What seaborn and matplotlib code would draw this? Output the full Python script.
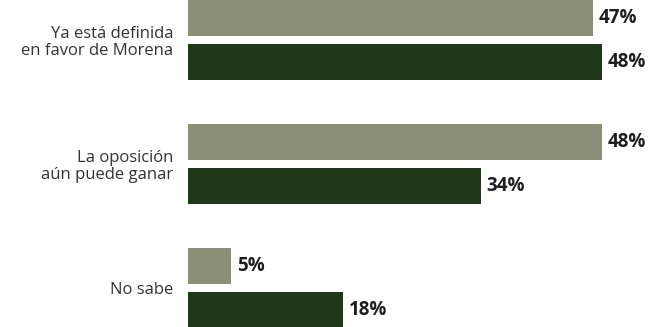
import matplotlib
matplotlib.use("Agg")
import matplotlib.pyplot as plt
import seaborn as sns
import pandas as pd

categories = ["Ya está definida\nen favor de Morena", "La oposición\naún puede ganar", "No sabe"]
series = ["Anterior", "Actual"]
values_anterior = [47, 48, 5]
values_actual = [48, 34, 18]
colors = ["#8a8f76", "#1f3817"]

rows = []
for c, a, b in zip(categories, values_anterior, values_actual):
    rows.append({"categoria": c, "serie": series[0], "valor": a})
    rows.append({"categoria": c, "serie": series[1], "valor": b})
df = pd.DataFrame(rows)

sns.set_theme(style="white")
plt.rcParams["font.family"] = ["Open Sans", "DejaVu Sans"]

fig = plt.figure(figsize=(6.51, 3.27), dpi=100)
ax = fig.add_axes([188 / 651, 0, 463 / 651, 1])
sns.barplot(data=df, y="categoria", x="valor", hue="serie", orient="h",
            palette=colors, width=0.71, gap=0.18, legend=False, ax=ax,
            saturation=1, linewidth=0)

for cont in ax.containers:
    ax.bar_label(cont, fmt="%d%%", padding=4, fontsize=13.5, fontweight="bold",
                 color="#1e1e1e")

ax.set_xlim(0, 53.7)
ax.set_ylim(2.316, -0.324)
ax.set_xlabel("")
ax.set_ylabel("")
ax.set_xticks([])
ax.tick_params(axis="y", length=0, pad=10.5, labelsize=12, labelcolor="#333333")
for lbl in ax.get_yticklabels():
    lbl.set_horizontalalignment("right")
    lbl.set_linespacing(1.1)
for s in ax.spines.values():
    s.set_visible(False)

fig.savefig("out.png", dpi=100, facecolor="white")
